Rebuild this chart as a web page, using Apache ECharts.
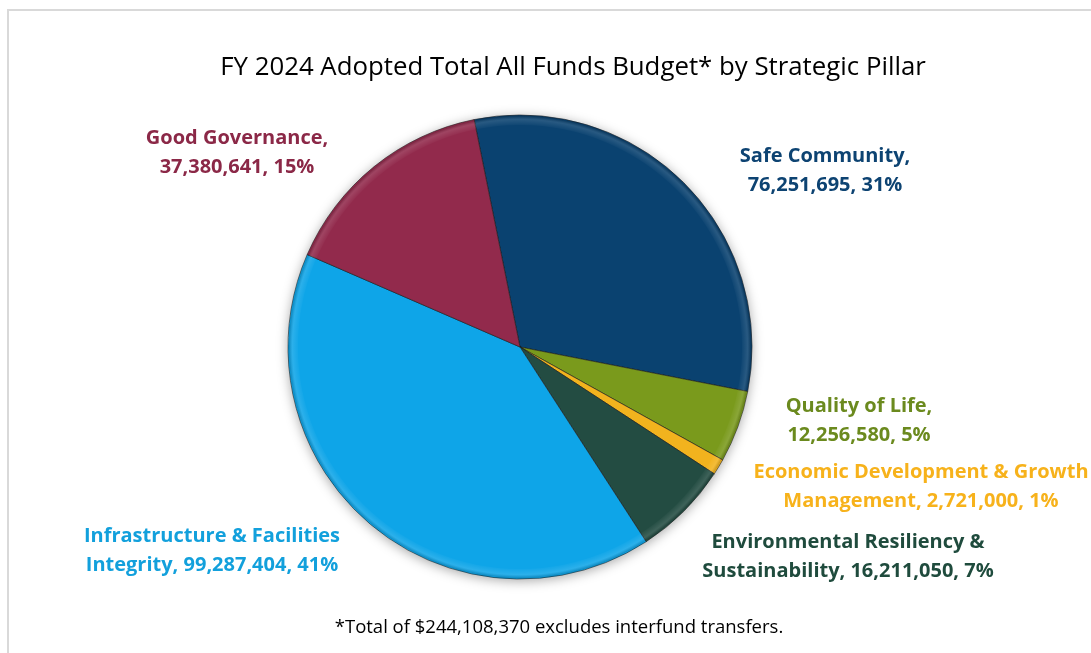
<!DOCTYPE html>
<html>
<head>
<meta charset="utf-8">
<script src="https://cdn.jsdelivr.net/npm/echarts@6/dist/echarts.min.js"></script>
<style>
  html, body { margin: 0; padding: 0; background: #ffffff; }
  #chart { width: 1091px; height: 653px; }
</style>
</head>
<body>
<div id="chart"></div>
<script>
// Budget by strategic pillar, in pie order (clockwise from the top)
const pillars = [
  'Safe Community',
  'Quality of Life',
  'Economic Development & Growth Management',
  'Environmental Resiliency & Sustainability',
  'Infrastructure & Facilities Integrity',
  'Good Governance'
];
const amounts = [76251695, 12256580, 2721000, 16211050, 99287404, 37380641];

// Label text split into two lines per pillar
const labelLines = [
  ['Safe Community,', '{v}, {p}%'],
  ['Quality of Life,', '{v}, {p}%'],
  ['Economic Development & Growth', 'Management, {v}, {p}%'],
  ['Environmental Resiliency &', 'Sustainability, {v}, {p}%'],
  ['Infrastructure & Facilities', 'Integrity, {v}, {p}%'],
  ['Good Governance,', '{v}, {p}%']
];

const sliceColors = ['#0a4270', '#7a9a1c', '#f2b31e', '#234c42', '#0ea5e8', '#922a4c'];
const labelColors = ['#0d4372', '#6b8a1e', '#f7b21b', '#1f4b3d', '#12a0dc', '#8b2847'];

// Label anchor points (chart pixels), one per pillar
const labelAnchors = [[825, 171], [859, 421], [921, 487], [848, 557], [212, 551], [237, 153]];

const titleText = 'FY 2024 Adopted Total All Funds Budget* by Strategic Pillar';
const noteText = '*Total of $244,108,370 excludes interfund transfers.';

const FONT = '"Open Sans", Lato, sans-serif';

const data = pillars.map((name, i) => ({
  name: name,
  value: amounts[i],
  itemStyle: { color: sliceColors[i] },
  label: { color: labelColors[i] }
}));

const chart = echarts.init(document.getElementById('chart'), null, { renderer: 'canvas' });

chart.setOption({
  backgroundColor: '#ffffff',
  animation: false,
  title: {
    text: titleText,
    left: 568,
    top: 50,
    textAlign: 'center',
    textStyle: { fontFamily: FONT, fontSize: 25.8, fontWeight: 'normal', color: '#000000' }
  },
  graphic: [
    {
      type: 'polyline',
      shape: { points: [[8, 700], [8, 10], [1100, 10]] },
      style: { stroke: '#d9d9d9', lineWidth: 2, fill: null }
    },
    {
      type: 'text',
      x: 559,
      y: 628,
      style: {
        text: noteText,
        fontFamily: FONT,
        fontSize: 18.5,
        fill: '#000000',
        align: 'center',
        verticalAlign: 'middle'
      }
    }
  ],
  series: [
    {
      // soft drop shadow beneath the pie
      type: 'pie',
      center: [520, 347],
      radius: 232,
      silent: true,
      data: [{ value: 1 }],
      itemStyle: {
        color: '#ffffff',
        shadowBlur: 12,
        shadowColor: 'rgba(0,0,0,0.35)',
        shadowOffsetX: 0,
        shadowOffsetY: 2
      },
      label: { show: false },
      labelLine: { show: false },
      emphasis: { disabled: true }
    },
    {
      type: 'pie',
      center: [520, 347],
      radius: 232,
      startAngle: 101.4,
      clockwise: true,
      percentPrecision: 0,
      data: data,
      itemStyle: {
        borderColor: 'rgba(25,25,25,0.6)',
        borderWidth: 1
      },
      label: {
        show: true,
        position: 'outside',
        fontFamily: FONT,
        fontSize: 20,
        fontWeight: 'bold',
        lineHeight: 29,
        width: 420,
        overflow: 'none',
        align: 'center',
        formatter: function (p) {
          const v = p.value.toLocaleString('en-US');
          return labelLines[p.dataIndex]
            .map(s => s.replace('{v}', v).replace('{p}', p.percent))
            .join('\n');
        }
      },
      labelLine: { show: false },
      labelLayout: function (params) {
        const a = labelAnchors[params.dataIndex];
        return { x: a[0], y: a[1], align: 'center', verticalAlign: 'middle' };
      },
      emphasis: { disabled: true }
    },
    {
      // light bevel rim around the edge
      type: 'pie',
      center: [520, 347],
      radius: [222, 231],
      silent: true,
      data: [{ value: 1 }],
      itemStyle: {
        color: {
          type: 'radial', x: 0.5, y: 0.5, r: 0.5,
          colorStops: [
            { offset: 0.955, color: 'rgba(255,255,255,0)' },
            { offset: 0.985, color: 'rgba(255,255,255,0.12)' },
            { offset: 1, color: 'rgba(0,0,0,0.18)' }
          ]
        }
      },
      label: { show: false },
      labelLine: { show: false },
      emphasis: { disabled: true }
    }
  ]
});
</script>
</body>
</html>
